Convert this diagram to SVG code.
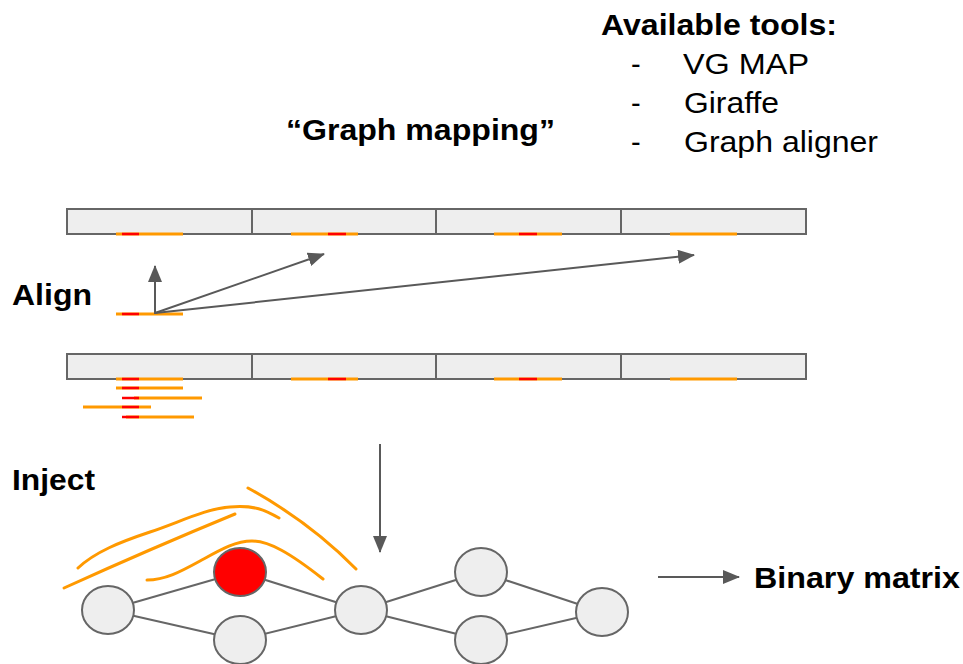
<svg xmlns="http://www.w3.org/2000/svg" width="963" height="664" viewBox="0 0 963 664">
<style>
.t{font-family:"Liberation Sans",Arial,sans-serif;font-size:29px;fill:#000}
.b{font-weight:bold}
.bar{fill:#eeeeee;stroke:#666;stroke-width:2}
.div{stroke:#666;stroke-width:2}
.or{stroke:#ff9900;stroke-width:3;fill:none}
.rd{stroke:#ff0000;stroke-width:2.5;fill:none}
.cv{stroke:#ff9900;stroke-width:3;fill:none;stroke-linecap:round}
.arr{stroke:#595959;stroke-width:2;fill:none;marker-end:url(#ah)}
.edge{stroke:#666;stroke-width:2;fill:none}
.node{fill:#eeeeee;stroke:#666;stroke-width:2}
</style>
<defs>
<marker id="ah" markerUnits="userSpaceOnUse" markerWidth="17" markerHeight="14" refX="16" refY="7" orient="auto">
<path d="M0,0 L17,7 L0,14 Z" fill="#595959"/>
</marker>
</defs>
<rect width="963" height="664" fill="#fff"/>

<g id="labels">
<text class="t b" x="601" y="35" textLength="236" lengthAdjust="spacingAndGlyphs">Available tools:</text>
<text class="t" x="631" y="74">-</text>
<text class="t" x="683" y="74" textLength="126" lengthAdjust="spacingAndGlyphs">VG MAP</text>
<text class="t" x="631" y="113">-</text>
<text class="t" x="684" y="113" textLength="95" lengthAdjust="spacingAndGlyphs">Giraffe</text>
<text class="t" x="631" y="152">-</text>
<text class="t" x="684" y="152" textLength="194" lengthAdjust="spacingAndGlyphs">Graph aligner</text>
<text class="t b" x="286" y="140" textLength="269" lengthAdjust="spacingAndGlyphs">“Graph mapping”</text>
<text class="t b" x="12" y="305" textLength="80" lengthAdjust="spacingAndGlyphs">Align</text>
<text class="t b" x="12" y="490" textLength="83" lengthAdjust="spacingAndGlyphs">Inject</text>
<text class="t b" x="754" y="588" textLength="206" lengthAdjust="spacingAndGlyphs">Binary matrix</text>
</g>

<g id="top-bar">
<rect class="bar" x="67" y="209" width="739" height="25"/>
<line class="div" x1="252" y1="209" x2="252" y2="234"/>
<line class="div" x1="436" y1="209" x2="436" y2="234"/>
<line class="div" x1="621" y1="209" x2="621" y2="234"/>
<line class="or" x1="116" y1="234" x2="183" y2="234"/><line class="rd" x1="122" y1="234" x2="139" y2="234"/>
<line class="or" x1="291" y1="234" x2="358" y2="234"/><line class="rd" x1="328" y1="234" x2="346" y2="234"/>
<line class="or" x1="494" y1="234" x2="562" y2="234"/><line class="rd" x1="519" y1="234" x2="537" y2="234"/>
<line class="or" x1="670" y1="234" x2="737" y2="234"/>
</g>

<g id="read">
<line class="or" x1="116" y1="314" x2="183" y2="314"/><line class="rd" x1="122" y1="314" x2="139" y2="314"/>
</g>

<g id="bottom-bar">
<rect class="bar" x="67" y="354" width="739" height="25"/>
<line class="div" x1="252" y1="354" x2="252" y2="379"/>
<line class="div" x1="436" y1="354" x2="436" y2="379"/>
<line class="div" x1="621" y1="354" x2="621" y2="379"/>
<line class="or" x1="116" y1="379" x2="183" y2="379"/><line class="rd" x1="122" y1="379" x2="139" y2="379"/>
<line class="or" x1="291" y1="379" x2="358" y2="379"/><line class="rd" x1="328" y1="379" x2="346" y2="379"/>
<line class="or" x1="494" y1="379" x2="562" y2="379"/><line class="rd" x1="519" y1="379" x2="537" y2="379"/>
<line class="or" x1="670" y1="379" x2="737" y2="379"/>
</g>

<g id="reads">
<line class="or" x1="116" y1="388" x2="183" y2="388"/><line class="rd" x1="122" y1="388" x2="139" y2="388"/>
<line class="or" x1="134" y1="398" x2="202" y2="398"/><line class="rd" x1="122" y1="398" x2="139" y2="398"/>
<line class="or" x1="83" y1="407" x2="151" y2="407"/><line class="rd" x1="122" y1="407" x2="139" y2="407"/>
<line class="or" x1="126" y1="417" x2="194" y2="417"/><line class="rd" x1="122" y1="417" x2="139" y2="417"/>
</g>

<g id="connectors">
<path class="arr" d="M155,314 L155,266"/>
<path class="arr" d="M155,313 L324,254"/>
<path class="arr" d="M155,313 L694,255"/>
<path class="arr" d="M380,444 L380,552"/>
<path class="arr" d="M658,577 L739,577"/>
<line class="edge" x1="108" y1="610" x2="240" y2="572"/>
<line class="edge" x1="108" y1="610" x2="240" y2="640"/>
<line class="edge" x1="240" y1="572" x2="361" y2="610"/>
<line class="edge" x1="240" y1="640" x2="361" y2="610"/>
<line class="edge" x1="361" y1="610" x2="481" y2="572"/>
<line class="edge" x1="361" y1="610" x2="481" y2="640"/>
<line class="edge" x1="481" y1="572" x2="602" y2="612"/>
<line class="edge" x1="481" y1="640" x2="602" y2="612"/>
</g>

<g id="node-a"><ellipse class="node" cx="108" cy="610" rx="26" ry="24"/></g>
<g id="node-red"><ellipse class="node" cx="240" cy="572" rx="26" ry="24" fill="#ff0000" style="fill:#ff0000"/></g>
<g id="node-b"><ellipse class="node" cx="240" cy="640" rx="26" ry="24"/></g>
<g id="node-c"><ellipse class="node" cx="361" cy="610" rx="26" ry="24"/></g>
<g id="node-d"><ellipse class="node" cx="481" cy="572" rx="26" ry="24"/></g>
<g id="node-e"><ellipse class="node" cx="481" cy="640" rx="26" ry="24"/></g>
<g id="node-f"><ellipse class="node" cx="602" cy="612" rx="26" ry="24"/></g>

<g id="injected-reads">
<path class="cv" d="M78,568 C95,552 120,542 150,532 S205,509 230,507 S265,510 279,518"/>
<path class="cv" d="M64,588 Q150,549 235,514"/>
<path class="cv" d="M147,580 C165,580 180,572 200,561 S235,541 252,541 S290,553 323,579"/>
<path class="cv" d="M248,488 Q310,522 356,569"/>
</g>
</svg>
